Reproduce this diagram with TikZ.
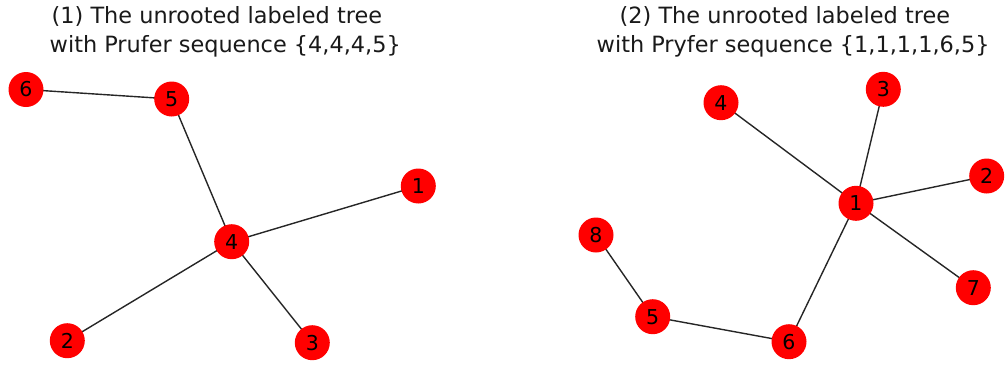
\documentclass[tikz,border=0pt]{standalone}
\usepackage{fontspec}
\setmainfont{DejaVu Sans}
\begin{document}
\begin{tikzpicture}[x=1pt,y=-1pt,
  vertex/.style={circle,fill=red,draw=none,minimum size=35pt,inner sep=0pt,
    font=\fontsize{20.5}{21}\selectfont},
  edge/.style={draw=black!85,line width=1.4pt},
  caption/.style={anchor=base west,inner sep=0pt,font=\fontsize{22.4}{24}\selectfont,text=black!90}]
\useasboundingbox (0,0) rectangle (1005,365);

% titles
\node[caption] (t1a) at (51.5,23.5) {(1) The unrooted labeled tree};
\node[caption] (t1b) at (49.5,52) {with Prufer sequence \{4,4,4,5\}};
\node[caption] (t2a) at (619.5,23.5) {(2) The unrooted labeled tree};
\node[caption] (t2b) at (596.5,52) {with Pryfer sequence \{1,1,1,1,6,5\}};

% first tree
\coordinate (a6) at (26,89.5);
\coordinate (a5) at (171.7,99);
\coordinate (a4) at (231.7,241.7);
\coordinate (a1) at (418.3,186);
\coordinate (a2) at (67.3,340.7);
\coordinate (a3) at (312.3,342.7);
\draw[edge] (a6) -- (a5);
\draw[edge] (a5) -- (a4);
\draw[edge] (a4) -- (a1);
\draw[edge] (a4) -- (a2);
\draw[edge] (a4) -- (a3);
\foreach \n in {1,...,6} {\node[vertex] (na\n) at (a\n) {\n};}

% second tree
\coordinate (b1) at (856,203.3);
\coordinate (b2) at (986.7,176);
\coordinate (b3) at (883.3,89.3);
\coordinate (b4) at (721,102.7);
\coordinate (b5) at (652.7,316.7);
\coordinate (b6) at (789,341.7);
\coordinate (b7) at (973.3,287.7);
\coordinate (b8) at (596,235);
\draw[edge] (b1) -- (b2);
\draw[edge] (b1) -- (b3);
\draw[edge] (b1) -- (b4);
\draw[edge] (b1) -- (b6);
\draw[edge] (b1) -- (b7);
\draw[edge] (b6) -- (b5);
\draw[edge] (b5) -- (b8);
\foreach \n in {1,...,8} {\node[vertex] (nb\n) at (b\n) {\n};}
\end{tikzpicture}
\end{document}
